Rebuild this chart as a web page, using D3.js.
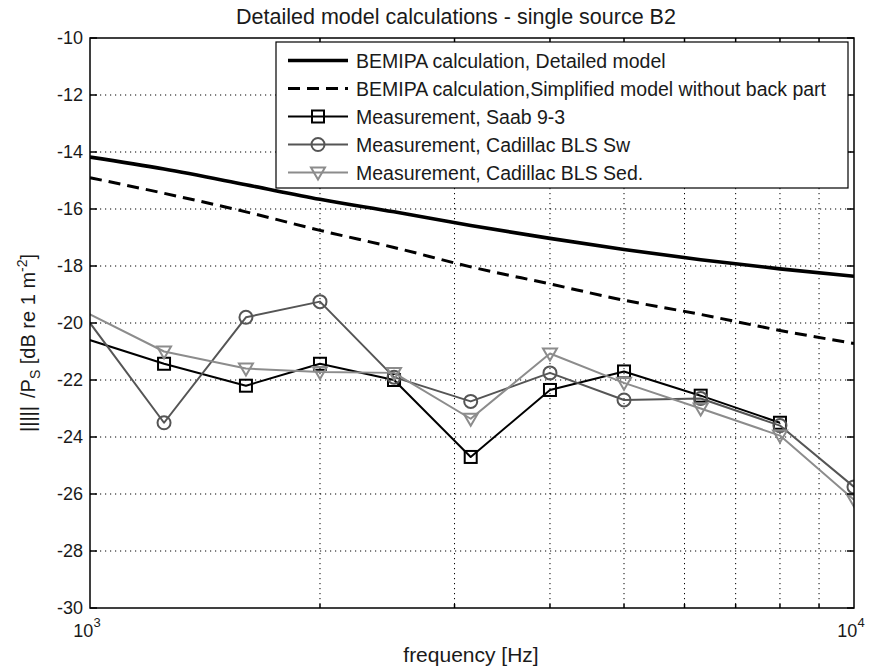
<!DOCTYPE html>
<html>
<head>
<meta charset="utf-8">
<script src="https://cdn.jsdelivr.net/npm/d3@7"></script>
<style>
  html, body { margin: 0; padding: 0; background: #fff; }
  svg text { font-family: "Liberation Sans", Arial, Helvetica, sans-serif; fill: #1a1a1a; }
</style>
</head>
<body>
<svg id="chart" width="869" height="670"></svg>
<script>
// ---------------- data ----------------
const titleText = "Detailed model calculations - single source B2";
const xLabelText = "frequency [Hz]";

const calcFreq = [1000, 1250, 1600, 2000, 2500, 3150, 4000, 5000, 6300, 8000, 10000];
const detailedModel = [-14.18, -14.6, -15.15, -15.66, -16.1, -16.58, -17.03, -17.42, -17.78, -18.1, -18.36];
const simplifiedModel = [-14.9, -15.45, -16.1, -16.75, -17.35, -18.03, -18.63, -19.2, -19.7, -20.26, -20.72];

const measFreq = [800, 1250, 1600, 2000, 2500, 3150, 4000, 5000, 6300, 8000, 10000];
const saab93 = [-19.77, -21.43, -22.2, -21.43, -22.0, -24.7, -22.35, -21.7, -22.55, -23.5, null];
const cadillacSw = [-16.5, -23.5, -19.8, -19.25, -21.9, -22.75, -21.75, -22.7, -22.65, -23.6, -25.75];
const cadillacSed = [-18.4, -21.0, -21.6, -21.72, -21.75, -23.36, -21.07, -22.1, -23.0, -23.95, -26.2];

const yTicks = [-30, -28, -26, -24, -22, -20, -18, -16, -14, -12, -10];
const xMajorTicks = [1000, 10000];
const xMajorExp = ["3", "4"];
const xMinorTicks = [2000, 3000, 4000, 5000, 6000, 7000, 8000, 9000];

const legendLabels = [
  "BEMIPA calculation, Detailed model",
  "BEMIPA calculation,Simplified model without back part",
  "Measurement, Saab 9-3",
  "Measurement, Cadillac BLS Sw",
  "Measurement, Cadillac BLS Sed."
];

// ---------------- layout ----------------
const L = 90, R = 854, T = 38, B = 608;
const svg = d3.select("#chart");
const x = d3.scaleLog().domain([1000, 10000]).range([L, R]);
const y = d3.scaleLinear().domain([-30, -10]).range([B, T]);

svg.append("defs").append("clipPath").attr("id", "plotclip")
  .append("rect").attr("x", L).attr("y", T).attr("width", R - L).attr("height", B - T);

// grid
const grid = svg.append("g").attr("stroke", "#000").attr("stroke-width", 1)
  .attr("stroke-dasharray", "1.2,3.8");
grid.selectAll("line.h").data(yTicks.filter(v => v > -30 && v < -10)).join("line")
  .attr("x1", L).attr("x2", R).attr("y1", d => y(d)).attr("y2", d => y(d));
grid.selectAll("line.v").data(xMinorTicks).join("line")
  .attr("y1", T).attr("y2", B).attr("x1", d => x(d)).attr("x2", d => x(d));

// series definitions
const series = [
  { name: legendLabels[0], f: calcFreq, v: detailedModel, color: "#000", width: 3.6, dash: null, marker: null },
  { name: legendLabels[1], f: calcFreq, v: simplifiedModel, color: "#000", width: 3, dash: "12,7", marker: null },
  { name: legendLabels[2], f: measFreq, v: saab93, color: "#000", width: 2, dash: null, marker: "square" },
  { name: legendLabels[3], f: measFreq, v: cadillacSw, color: "#555", width: 2, dash: null, marker: "circle" },
  { name: legendLabels[4], f: measFreq, v: cadillacSed, color: "#8c8c8c", width: 2, dash: null, marker: "triangle" }
];

function drawMarker(g, type, cx, cy, color) {
  if (type === "square") {
    g.append("rect").attr("x", cx - 6).attr("y", cy - 6).attr("width", 12).attr("height", 12)
      .attr("fill", "none").attr("stroke", color).attr("stroke-width", 2);
  } else if (type === "circle") {
    g.append("circle").attr("cx", cx).attr("cy", cy).attr("r", 6.5)
      .attr("fill", "none").attr("stroke", color).attr("stroke-width", 2);
  } else if (type === "triangle") {
    g.append("path").attr("d", `M${cx - 7},${cy - 5} L${cx + 7},${cy - 5} L${cx},${cy + 7} Z`)
      .attr("fill", "none").attr("stroke", color).attr("stroke-width", 2);
  }
}

const plot = svg.append("g").attr("clip-path", "url(#plotclip)");
series.forEach(s => {
  const pts = s.f.map((f, i) => ({ f, v: s.v[i] })).filter(d => d.v !== null);
  const line = d3.line().x(d => x(d.f)).y(d => y(d.v)).curve(s.marker ? d3.curveLinear : d3.curveMonotoneX);
  plot.append("path").datum(pts).attr("d", line).attr("fill", "none")
    .attr("stroke", s.color).attr("stroke-width", s.width)
    .attr("stroke-dasharray", s.dash).attr("stroke-linejoin", "round");
  if (s.marker) {
    const mg = plot.append("g");
    pts.forEach(d => drawMarker(mg, s.marker, x(d.f), y(d.v), s.color));
  }
});

// axes box + ticks
const ax = svg.append("g").attr("stroke", "#000").attr("stroke-width", 1.5);
ax.append("rect").attr("x", L).attr("y", T).attr("width", R - L).attr("height", B - T).attr("fill", "none");
yTicks.forEach(v => {
  ax.append("line").attr("x1", L).attr("x2", L + 7).attr("y1", y(v)).attr("y2", y(v));
  ax.append("line").attr("x1", R).attr("x2", R - 7).attr("y1", y(v)).attr("y2", y(v));
});
xMinorTicks.forEach(f => {
  ax.append("line").attr("x1", x(f)).attr("x2", x(f)).attr("y1", B).attr("y2", B - 4);
  ax.append("line").attr("x1", x(f)).attr("x2", x(f)).attr("y1", T).attr("y2", T + 4);
});

// y tick labels
svg.append("g").selectAll("text").data(yTicks).join("text")
  .attr("x", 83).attr("y", d => y(d)).attr("text-anchor", "end").attr("dy", "0.36em")
  .attr("font-size", 18).text(d => d);

// x tick labels
xMajorTicks.forEach((f, i) => {
  const t = svg.append("text").attr("x", x(f) - 3).attr("y", 637).attr("text-anchor", "middle").attr("font-size", 18);
  t.append("tspan").text("10");
  t.append("tspan").attr("dy", -10).attr("font-size", 13).text(xMajorExp[i]);
});

// title
svg.append("text").attr("x", 456).attr("y", 24).attr("text-anchor", "middle")
  .attr("font-size", 21.5).text(titleText);

// x label
svg.append("text").attr("x", 471).attr("y", 662).attr("text-anchor", "middle")
  .attr("font-size", 21).text(xLabelText);

// y label
const yl = svg.append("text").attr("transform", "translate(35,432) rotate(-90)")
  .attr("text-anchor", "start").attr("font-size", 20);
yl.append("tspan").text("|||||");
yl.append("tspan").attr("dx", 8).text("/P");
yl.append("tspan").attr("dy", 5).attr("font-size", 14).text("S");
yl.append("tspan").attr("dy", -5).text(" [dB re 1 m");
yl.append("tspan").attr("dy", -8).attr("font-size", 14).text("-2");
yl.append("tspan").attr("dy", 8).text("]");

// legend
const lg = svg.append("g");
lg.append("rect").attr("x", 276).attr("y", 42).attr("width", 572).attr("height", 146)
  .attr("fill", "#fff").attr("stroke", "#000").attr("stroke-width", 1.2);
series.forEach((s, i) => {
  const cy = 60.5 + 28 * i;
  lg.append("line").attr("x1", 288).attr("x2", 348).attr("y1", cy).attr("y2", cy)
    .attr("stroke", s.color).attr("stroke-width", s.width).attr("stroke-dasharray", s.dash ? "12,7" : null);
  if (s.marker) drawMarker(lg, s.marker, 318, cy, s.color);
  lg.append("text").attr("x", 356).attr("y", cy).attr("dy", "0.36em").attr("font-size", 19.5).text(s.name);
});
</script>
</body>
</html>
